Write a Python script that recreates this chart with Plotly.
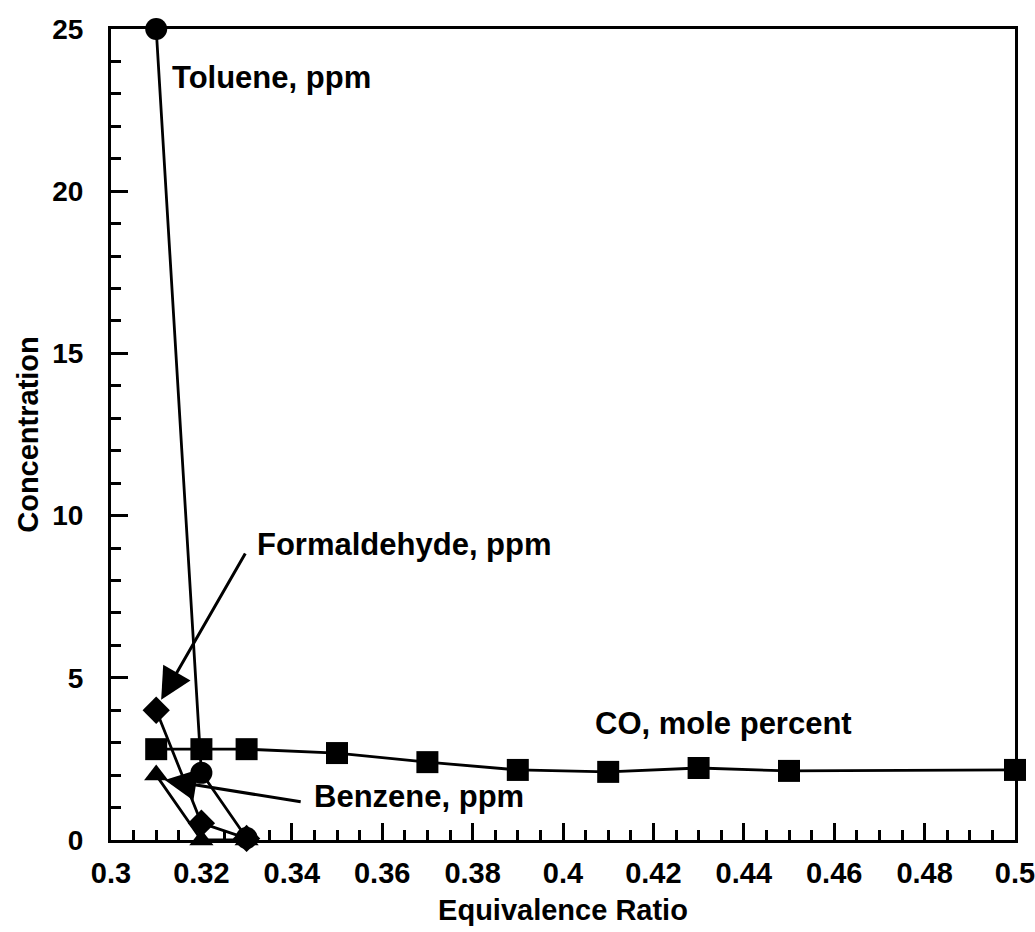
import plotly.graph_objects as go

# ---- data ----
toluene_x = [0.31, 0.32, 0.33]
toluene_y = [25.0, 2.07, 0.06]

formaldehyde_x = [0.31, 0.32, 0.33]
formaldehyde_y = [4.0, 0.52, 0.05]

benzene_x = [0.31, 0.32, 0.33]
benzene_y = [2.0, 0.0, 0.0]

co_x = [0.31, 0.32, 0.33, 0.35, 0.37, 0.39, 0.41, 0.43, 0.45, 0.50]
co_y = [2.8, 2.8, 2.8, 2.68, 2.4, 2.16, 2.10, 2.22, 2.13, 2.16]

x_tickvals = [0.30, 0.32, 0.34, 0.36, 0.38, 0.40, 0.42, 0.44, 0.46, 0.48, 0.50]
x_ticktext = ["0.3", "0.32", "0.34", "0.36", "0.38", "0.4", "0.42", "0.44", "0.46", "0.48", "0.5"]
y_tickvals = [0, 5, 10, 15, 20, 25]
y_ticktext = ["0", "5", "10", "15", "20", "25"]

FONT = "Liberation Sans"
BLACK = "#000000"

fig = go.Figure()

def add_series(xs, ys, symbol, size):
    fig.add_trace(go.Scatter(
        x=xs, y=ys, mode="lines+markers",
        line=dict(color=BLACK, width=2.8),
        marker=dict(symbol=symbol, size=size, color=BLACK, line=dict(width=0)),
        cliponaxis=False, showlegend=False,
    ))

add_series(co_x, co_y, "square", 22)
add_series(benzene_x, benzene_y, "triangle-up", 21)
add_series(formaldehyde_x, formaldehyde_y, "diamond", 21)
add_series(toluene_x, toluene_y, "circle", 22)

tfont = dict(family=FONT, size=31, color=BLACK, weight="bold")

annotations = [
    dict(x=0.3131, y=23.5, text="Toluene, ppm", showarrow=False,
         xanchor="left", yanchor="middle", font=tfont),
    dict(x=0.3319, y=9.1, text="Formaldehyde, ppm", showarrow=False,
         xanchor="left", yanchor="middle", font=tfont),
    dict(x=0.4066, y=3.6, text="CO, mole percent", showarrow=False,
         xanchor="left", yanchor="middle", font=tfont),
    dict(x=0.3445, y=1.33, text="Benzene, ppm", showarrow=False,
         xanchor="left", yanchor="middle", font=tfont),
    # arrows
    dict(x=0.3111, y=4.32, ax=0.3299, ay=8.88, xref="x", yref="y",
         axref="x", ayref="y", text="", showarrow=True,
         arrowhead=2, arrowsize=2.1, arrowwidth=3, arrowcolor=BLACK),
    dict(x=0.3119, y=1.85, ax=0.3423, ay=1.17, xref="x", yref="y",
         axref="x", ayref="y", text="", showarrow=True,
         arrowhead=2, arrowsize=2.1, arrowwidth=3, arrowcolor=BLACK),
]

fig.update_layout(
    width=1035, height=932,
    margin=dict(l=111, r=20, t=29, b=92, autoexpand=False),
    paper_bgcolor="white", plot_bgcolor="white",
    font=dict(family=FONT, color=BLACK),
    annotations=annotations,
    showlegend=False,
)

fig.update_xaxes(
    range=[0.3, 0.5], tickvals=x_tickvals, ticktext=x_ticktext,
    ticks="inside", ticklen=17, tickwidth=2.5, tickcolor=BLACK,
    minor=dict(dtick=0.005, ticks="inside", ticklen=10, tickwidth=2.5, tickcolor=BLACK),
    showline=True, linewidth=3, linecolor=BLACK, mirror=True,
    showgrid=False, zeroline=False, automargin=False,
    tickfont=dict(family=FONT, size=29, color=BLACK, weight="bold"),
    ticklabelstandoff=5, ticklabeloverflow="allow",
    title=dict(text="Equivalence Ratio", standoff=12,
               font=dict(family=FONT, size=29, color=BLACK, weight="bold")),
)
fig.update_yaxes(
    range=[0, 25], tickvals=y_tickvals, ticktext=y_ticktext,
    ticks="inside", ticklen=17, tickwidth=2.5, tickcolor=BLACK,
    minor=dict(dtick=1, ticks="inside", ticklen=10, tickwidth=2.5, tickcolor=BLACK),
    showline=True, linewidth=3, linecolor=BLACK, mirror=True,
    showgrid=False, zeroline=False, automargin=False,
    tickfont=dict(family=FONT, size=28, color=BLACK, weight="bold"),
    ticklabelstandoff=19, ticklabeloverflow="allow",
    title=dict(text="Concentration", standoff=6,
               font=dict(family=FONT, size=29, color=BLACK, weight="bold")),
)

fig.write_html("out.html")
